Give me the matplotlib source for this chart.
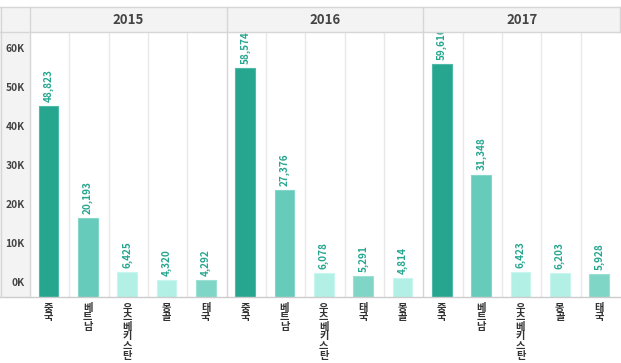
import matplotlib
matplotlib.use("Agg")
import matplotlib.pyplot as plt
from matplotlib.patches import Rectangle
from matplotlib.lines import Line2D

plt.rcParams['font.family'] = ['Noto Sans CJK KR', 'DejaVu Sans']

years = ['2015', '2016', '2017']
cats_2015 = ['중국', '베트남', '우즈베키스탄', '몽골', '태국']
vals_2015 = [48823, 20193, 6425, 4320, 4292]
cats_2016 = ['중국', '베트남', '우즈베키스탄', '태국', '몽골']
vals_2016 = [58574, 27376, 6078, 5291, 4814]
cats_2017 = ['중국', '베트남', '우즈베키스탄', '몽골', '태국']
vals_2017 = [59616, 31348, 6423, 6203, 5928]
y_ticks = [0, 10000, 20000, 30000, 40000, 50000, 60000]
y_tick_labels = ['0K', '10K', '20K', '30K', '40K', '50K', '60K']

colors = {'중국': '#26a68f', '베트남': '#66cbbb', '우즈베키스탄': '#b2f0e6',
          '몽골': '#b2f0e6', '태국': '#80d6c6'}
edge_colors = {'중국': '#4cbaa6', '베트남': '#85d6c9', '우즈베키스탄': '#c8f5ee',
               '몽골': '#c8f5ee', '태국': '#9be0d3'}

W, H = 621, 363
fig = plt.figure(figsize=(W / 100, H / 100), dpi=100)

def fx(px):
    return px / W

def fy(py):
    return 1 - py / H

x_left, x_right = 30, 620
y_top, y_base = 32, 297
head_top = 7
px_per_unit = 39.05 / 10000
ymax = (y_base - y_top) / px_per_unit

# backgrounds
fig.add_artist(Rectangle((fx(0), fy(y_base)), fx(x_left), fy(head_top) - fy(y_base),
                         transform=fig.transFigure, facecolor='#f3f3f3', edgecolor='none', zorder=0))
fig.add_artist(Rectangle((fx(x_left), fy(y_top)), fx(x_right) - fx(x_left), fy(head_top) - fy(y_top),
                         transform=fig.transFigure, facecolor='#f3f3f3', edgecolor='none', zorder=0))

ax = fig.add_axes([fx(x_left), fy(y_base), fx(x_right) - fx(x_left), fy(y_top) - fy(y_base)])
ax.set_facecolor('white')
ax.set_xlim(0, 15)
ax.set_ylim(0, ymax)
for s in ax.spines.values():
    s.set_visible(False)
ax.set_xticks([])
ax.set_yticks([])

all_cats = [cats_2015, cats_2016, cats_2017]
all_vals = [vals_2015, vals_2016, vals_2017]

for i in range(1, 15):
    c = '#d6d6d6' if i % 5 == 0 else '#e8e8e8'
    ax.axvline(i, color=c, lw=1.0, zorder=1)

for p, (cats, vals) in enumerate(zip(all_cats, all_vals)):
    for j, (c, v) in enumerate(zip(cats, vals)):
        x = p * 5 + j + 0.47
        ax.bar(x, v, width=0.5, color=colors[c], edgecolor=edge_colors[c], linewidth=0.8, zorder=2)
        t = ax.annotate(f'{v:,}', (x, v), xytext=(0, 3), textcoords='offset points',
                        rotation=90, ha='center', va='bottom', fontsize=7.2,
                        fontweight='bold', color='#26a68f', annotation_clip=False, clip_on=True)
        t.set_clip_on(True)
        # x label (stacked characters)
        ax.annotate('\n'.join(c), (x, 0), xytext=(0, -4), textcoords='offset points',
                    ha='center', va='top', fontsize=7.4, fontweight='bold', color='#333333',
                    linespacing=0.95, annotation_clip=False)

# header texts
for p, yr in enumerate(years):
    cx = x_left + (x_right - x_left) * (p + 0.5) / 3
    fig.text(fx(cx), fy((head_top + y_top) / 2), yr, ha='center', va='center',
             fontsize=9.5, fontweight='bold', color='#444444')

# y tick labels (offset upward)
for v, lab in zip(y_ticks, y_tick_labels):
    py = y_base - v * px_per_unit - 13.5
    fig.text(fx(24.5), fy(py), lab, ha='right', va='center', fontsize=7.4,
             fontweight='bold', color='#444444')

# border lines
def hline(py, x0, x1, c='#d6d6d6'):
    fig.add_artist(Line2D([fx(x0), fx(x1)], [fy(py), fy(py)], transform=fig.transFigure,
                          color=c, lw=1.0, zorder=5))

def vline(px, y0, y1, c='#d6d6d6'):
    fig.add_artist(Line2D([fx(px), fx(px)], [fy(y0), fy(y1)], transform=fig.transFigure,
                          color=c, lw=1.0, zorder=5))

hline(head_top, 0, x_right)
hline(y_top, 0, x_right)
hline(y_base, 0, x_right, '#cccccc')
vline(0.5, head_top, y_base)
vline(x_left, head_top, y_base)
for p in range(1, 3):
    vline(x_left + (x_right - x_left) * p / 3, head_top, y_top)
vline(x_right, head_top, y_top)

fig.savefig('out.png', dpi=100)
